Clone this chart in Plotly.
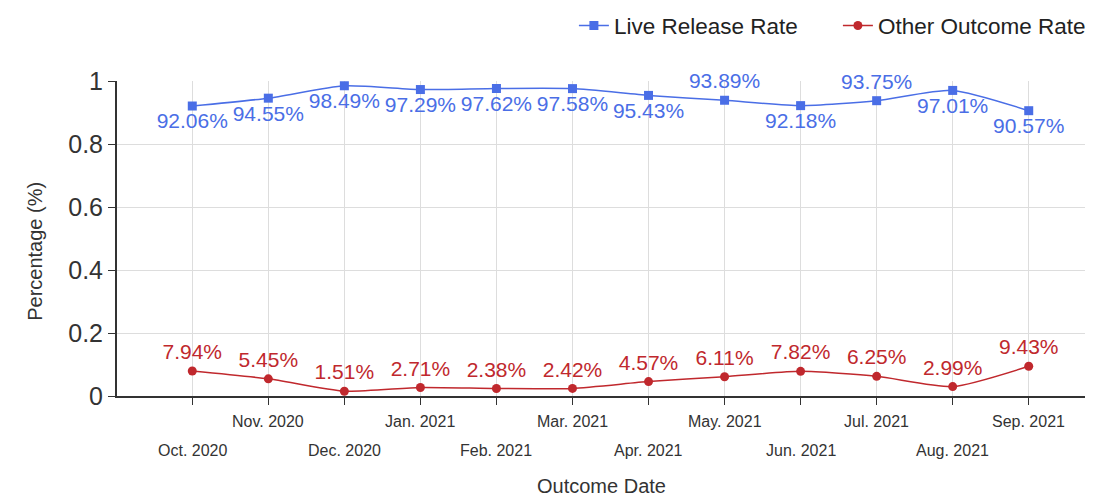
import plotly.graph_objects as go

months = ["Oct. 2020", "Nov. 2020", "Dec. 2020", "Jan. 2021", "Feb. 2021", "Mar. 2021",
          "Apr. 2021", "May. 2021", "Jun. 2021", "Jul. 2021", "Aug. 2021", "Sep. 2021"]
live_release = [0.9206, 0.9455, 0.9849, 0.9729, 0.9762, 0.9758,
                0.9543, 0.9389, 0.9218, 0.9375, 0.9701, 0.9057]
other_outcome = [0.0794, 0.0545, 0.0151, 0.0271, 0.0238, 0.0242,
                 0.0457, 0.0611, 0.0782, 0.0625, 0.0299, 0.0943]
live_label_pos = ["bottom center"] * 7 + ["top center", "bottom center", "top center",
                                          "bottom center", "bottom center"]

BLUE = "#4a6ee6"
RED = "#c0282d"
FONT = "Liberation Sans, Arial, sans-serif"
TXT = "#333333"

idx = list(range(len(months)))

fig = go.Figure()
fig.add_trace(go.Scatter(
    x=idx, y=live_release, name="Live Release Rate",
    mode="lines+markers+text",
    line=dict(color=BLUE, width=1.5, shape="spline", smoothing=0.6),
    marker=dict(symbol="square", size=9, color=BLUE),
    text=[f"{v*100:.2f}%" for v in live_release],
    textposition=live_label_pos,
    textfont=dict(color=BLUE, size=21, family=FONT),
    cliponaxis=False,
))
fig.add_trace(go.Scatter(
    x=idx, y=other_outcome, name="Other Outcome Rate",
    mode="lines+markers+text",
    line=dict(color=RED, width=1.5, shape="spline", smoothing=0.6),
    marker=dict(symbol="circle", size=9, color=RED),
    text=[f"{v*100:.2f}%" for v in other_outcome],
    textposition="top center",
    textfont=dict(color=RED, size=21, family=FONT),
    cliponaxis=False,
))

annotations = []
for i, m in enumerate(months):
    annotations.append(dict(
        x=i, y=0, xref="x", yref="y", text=m, showarrow=False,
        yanchor="middle", xanchor="center",
        yshift=-25 if i % 2 == 1 else -54,
        font=dict(size=16, color=TXT, family=FONT),
    ))
annotations.append(dict(
    x=0.5, y=-0.286, xref="paper", yref="paper", text="Outcome Date",
    showarrow=False, xanchor="center", yanchor="middle",
    font=dict(size=20, color=TXT, family=FONT),
))
annotations.append(dict(
    x=-0.085, y=0.46, xref="paper", yref="paper", text="Percentage (%)",
    showarrow=False, xanchor="center", yanchor="middle", textangle=-90,
    font=dict(size=20, color=TXT, family=FONT),
))

fig.update_layout(
    width=1096, height=500,
    margin=dict(l=109, r=19, t=73, b=112, autoexpand=False),
    paper_bgcolor="white", plot_bgcolor="white",
    font=dict(family=FONT, color=TXT),
    showlegend=True,
    legend=dict(orientation="h", x=0.472, xanchor="left", y=1.175, yanchor="middle",
                font=dict(size=22.5, color="#222222", family=FONT),
                traceorder="normal", entrywidth=219, entrywidthmode="pixels"),
    annotations=annotations,
    xaxis=dict(
        range=[-0.99, 11.74], tickvals=idx, showticklabels=False,
        ticks="outside", ticklen=7, tickcolor=TXT,
        showgrid=True, gridcolor="#dddddd", gridwidth=1,
        showline=True, linecolor=TXT, linewidth=2,
        zeroline=False, automargin=False,
    ),
    yaxis=dict(
        range=[0, 1], tickvals=[0, 0.2, 0.4, 0.6, 0.8, 1],
        ticktext=["0", "0.2", "0.4", "0.6", "0.8", "1"],
        ticks="outside", ticklen=7, tickcolor=TXT,
        tickfont=dict(size=25, color=TXT),
        showgrid=True, gridcolor="#dddddd", gridwidth=1,
        showline=True, linecolor=TXT, linewidth=2,
        zeroline=False, automargin=False,
    ),
)

fig.write_html("out.html")
